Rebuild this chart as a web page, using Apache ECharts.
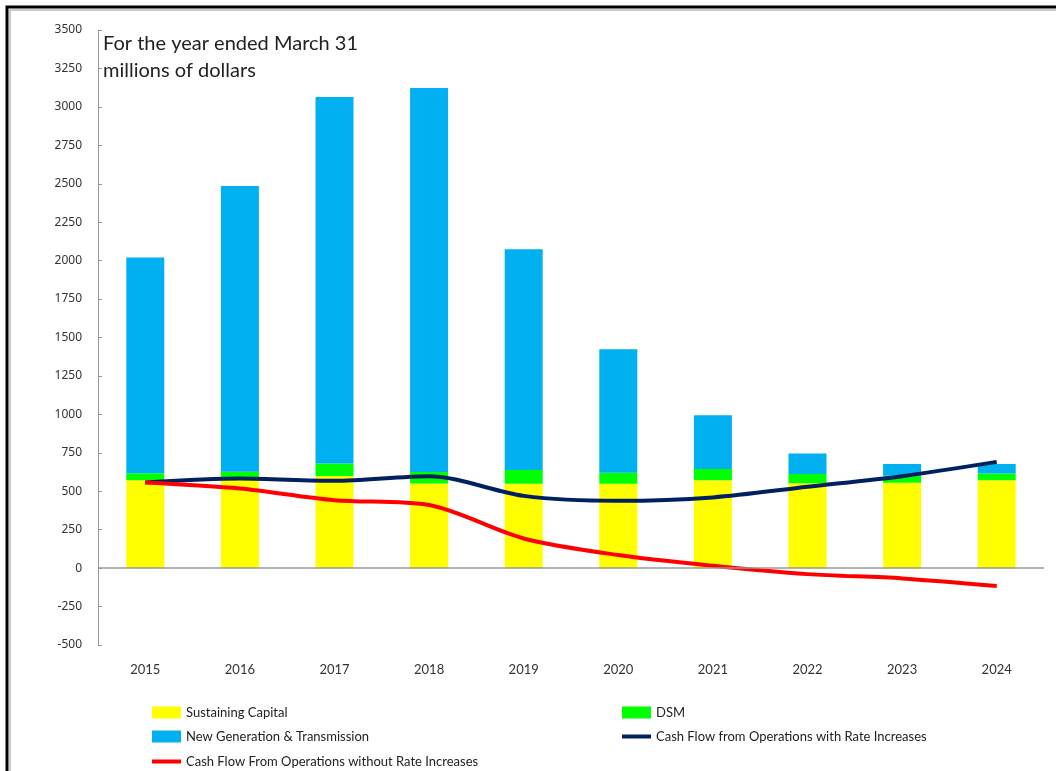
<!DOCTYPE html>
<html>
<head>
<meta charset="utf-8">
<script src="https://cdn.jsdelivr.net/npm/echarts@6/dist/echarts.min.js"></script>
<style>
  html, body { margin: 0; padding: 0; background: #fff; overflow: hidden; }
  #chart { width: 1056px; height: 771px; }
</style>
</head>
<body>
<div id="chart"></div>
<script>
// years on the x axis
const years = ['2015', '2016', '2017', '2018', '2019', '2020', '2021', '2022', '2023', '2024']

// stacked bar parts (millions of dollars)
const sustainingCapital = [572, 585, 600, 550, 548, 548, 572, 552, 556, 572]
const dsm = [45, 42, 80, 76, 90, 72, 72, 60, 45, 44]
const newGenTransmission = [1403, 1858, 2385, 2497, 1436, 804, 351, 134, 77, 62]

// cash flow lines
const cashWithRates = [557, 583, 568, 598, 470, 438, 460, 529, 598, 691]
const cashWithoutRates = [557, 518, 442, 410, 193, 85, 15, -39, -67, -117]

const chart = echarts.init(document.getElementById('chart'))

const font = 'Lato'

// 图例：两列布局，用多个 legend 组件拼出来
const legendText = { fontFamily: font, fontSize: 13, color: '#222' }
const mkLegend = (name, left, top, isLine) => ({
  data: [name],
  left: left,
  top: top,
  itemWidth: 29,
  itemHeight: isLine ? 4 : 12,
  itemGap: 2,
  textStyle: legendText,
  selectedMode: false,
  icon: 'rect',
  padding: 0
})

const option = {
  animation: false,
  backgroundColor: '#fff',
  grid: {
    left: 98,
    right: 12,
    top: 30,
    bottom: 126
  },
  legend: [
    mkLegend('Sustaining Capital', 152, 706, false),
    mkLegend('DSM', 622, 706, false),
    mkLegend('New Generation & Transmission', 152, 730, false),
    mkLegend('Cash Flow from Operations with Rate Increases', 622, 730, true),
    mkLegend('Cash Flow From Operations without Rate Increases', 152, 755, true)
  ],
  xAxis: {
    type: 'category',
    data: years,
    axisLine: { show: false },
    axisTick: { show: false },
    axisLabel: {
      fontFamily: font,
      fontSize: 13,
      color: '#333',
      margin: 18
    }
  },
  yAxis: {
    type: 'value',
    min: -500,
    max: 3500,
    interval: 250,
    splitLine: { show: false },
    axisLine: { show: true, lineStyle: { color: '#999', width: 1 } },
    axisTick: { show: true, inside: true, length: 4, lineStyle: { color: '#999' } },
    axisLabel: {
      fontFamily: 'Noto Sans',
      fontSize: 12,
      color: '#333',
      margin: 16,
      formatter: (v) => String(v)
    }
  },
  graphic: [
    {
      type: 'text',
      left: 103,
      top: 30,
      style: {
        text: 'For the year ended March 31\nmillions of dollars',
        font: '20px Lato',
        fill: '#222',
        lineHeight: 27
      }
    },
    {
      type: 'polyline',
      shape: { points: [[7, 771], [7, 7], [1056, 7]] },
      style: { stroke: '#000', lineWidth: 3, fill: null }
    },
    {
      type: 'polyline',
      shape: { points: [[10, 771], [10, 10], [1056, 10]] },
      style: { stroke: '#bbb', lineWidth: 1.5, fill: null }
    }
  ],
  series: [
    {
      name: 'Sustaining Capital',
      type: 'bar',
      stack: 'capex',
      barWidth: 38,
      data: sustainingCapital,
      itemStyle: { color: '#FFFF00' },
      markLine: {
        silent: true,
        symbol: 'none',
        label: { show: false },
        lineStyle: { color: '#999', width: 1.5, type: 'solid' },
        data: [{ yAxis: 0 }]
      }
    },
    {
      name: 'DSM',
      type: 'bar',
      stack: 'capex',
      data: dsm,
      itemStyle: { color: '#00FF00' }
    },
    {
      name: 'New Generation & Transmission',
      type: 'bar',
      stack: 'capex',
      data: newGenTransmission,
      itemStyle: { color: '#00B0F0' }
    },
    {
      name: 'Cash Flow from Operations with Rate Increases',
      type: 'line',
      data: cashWithRates,
      smooth: 0.3,
      symbol: 'none',
      lineStyle: { color: '#002060', width: 4 },
      itemStyle: { color: '#002060' }
    },
    {
      name: 'Cash Flow From Operations without Rate Increases',
      type: 'line',
      data: cashWithoutRates,
      smooth: 0.3,
      symbol: 'none',
      lineStyle: { color: '#FF0000', width: 4 },
      itemStyle: { color: '#FF0000' }
    }
  ]
}

chart.setOption(option)
</script>
</body>
</html>
